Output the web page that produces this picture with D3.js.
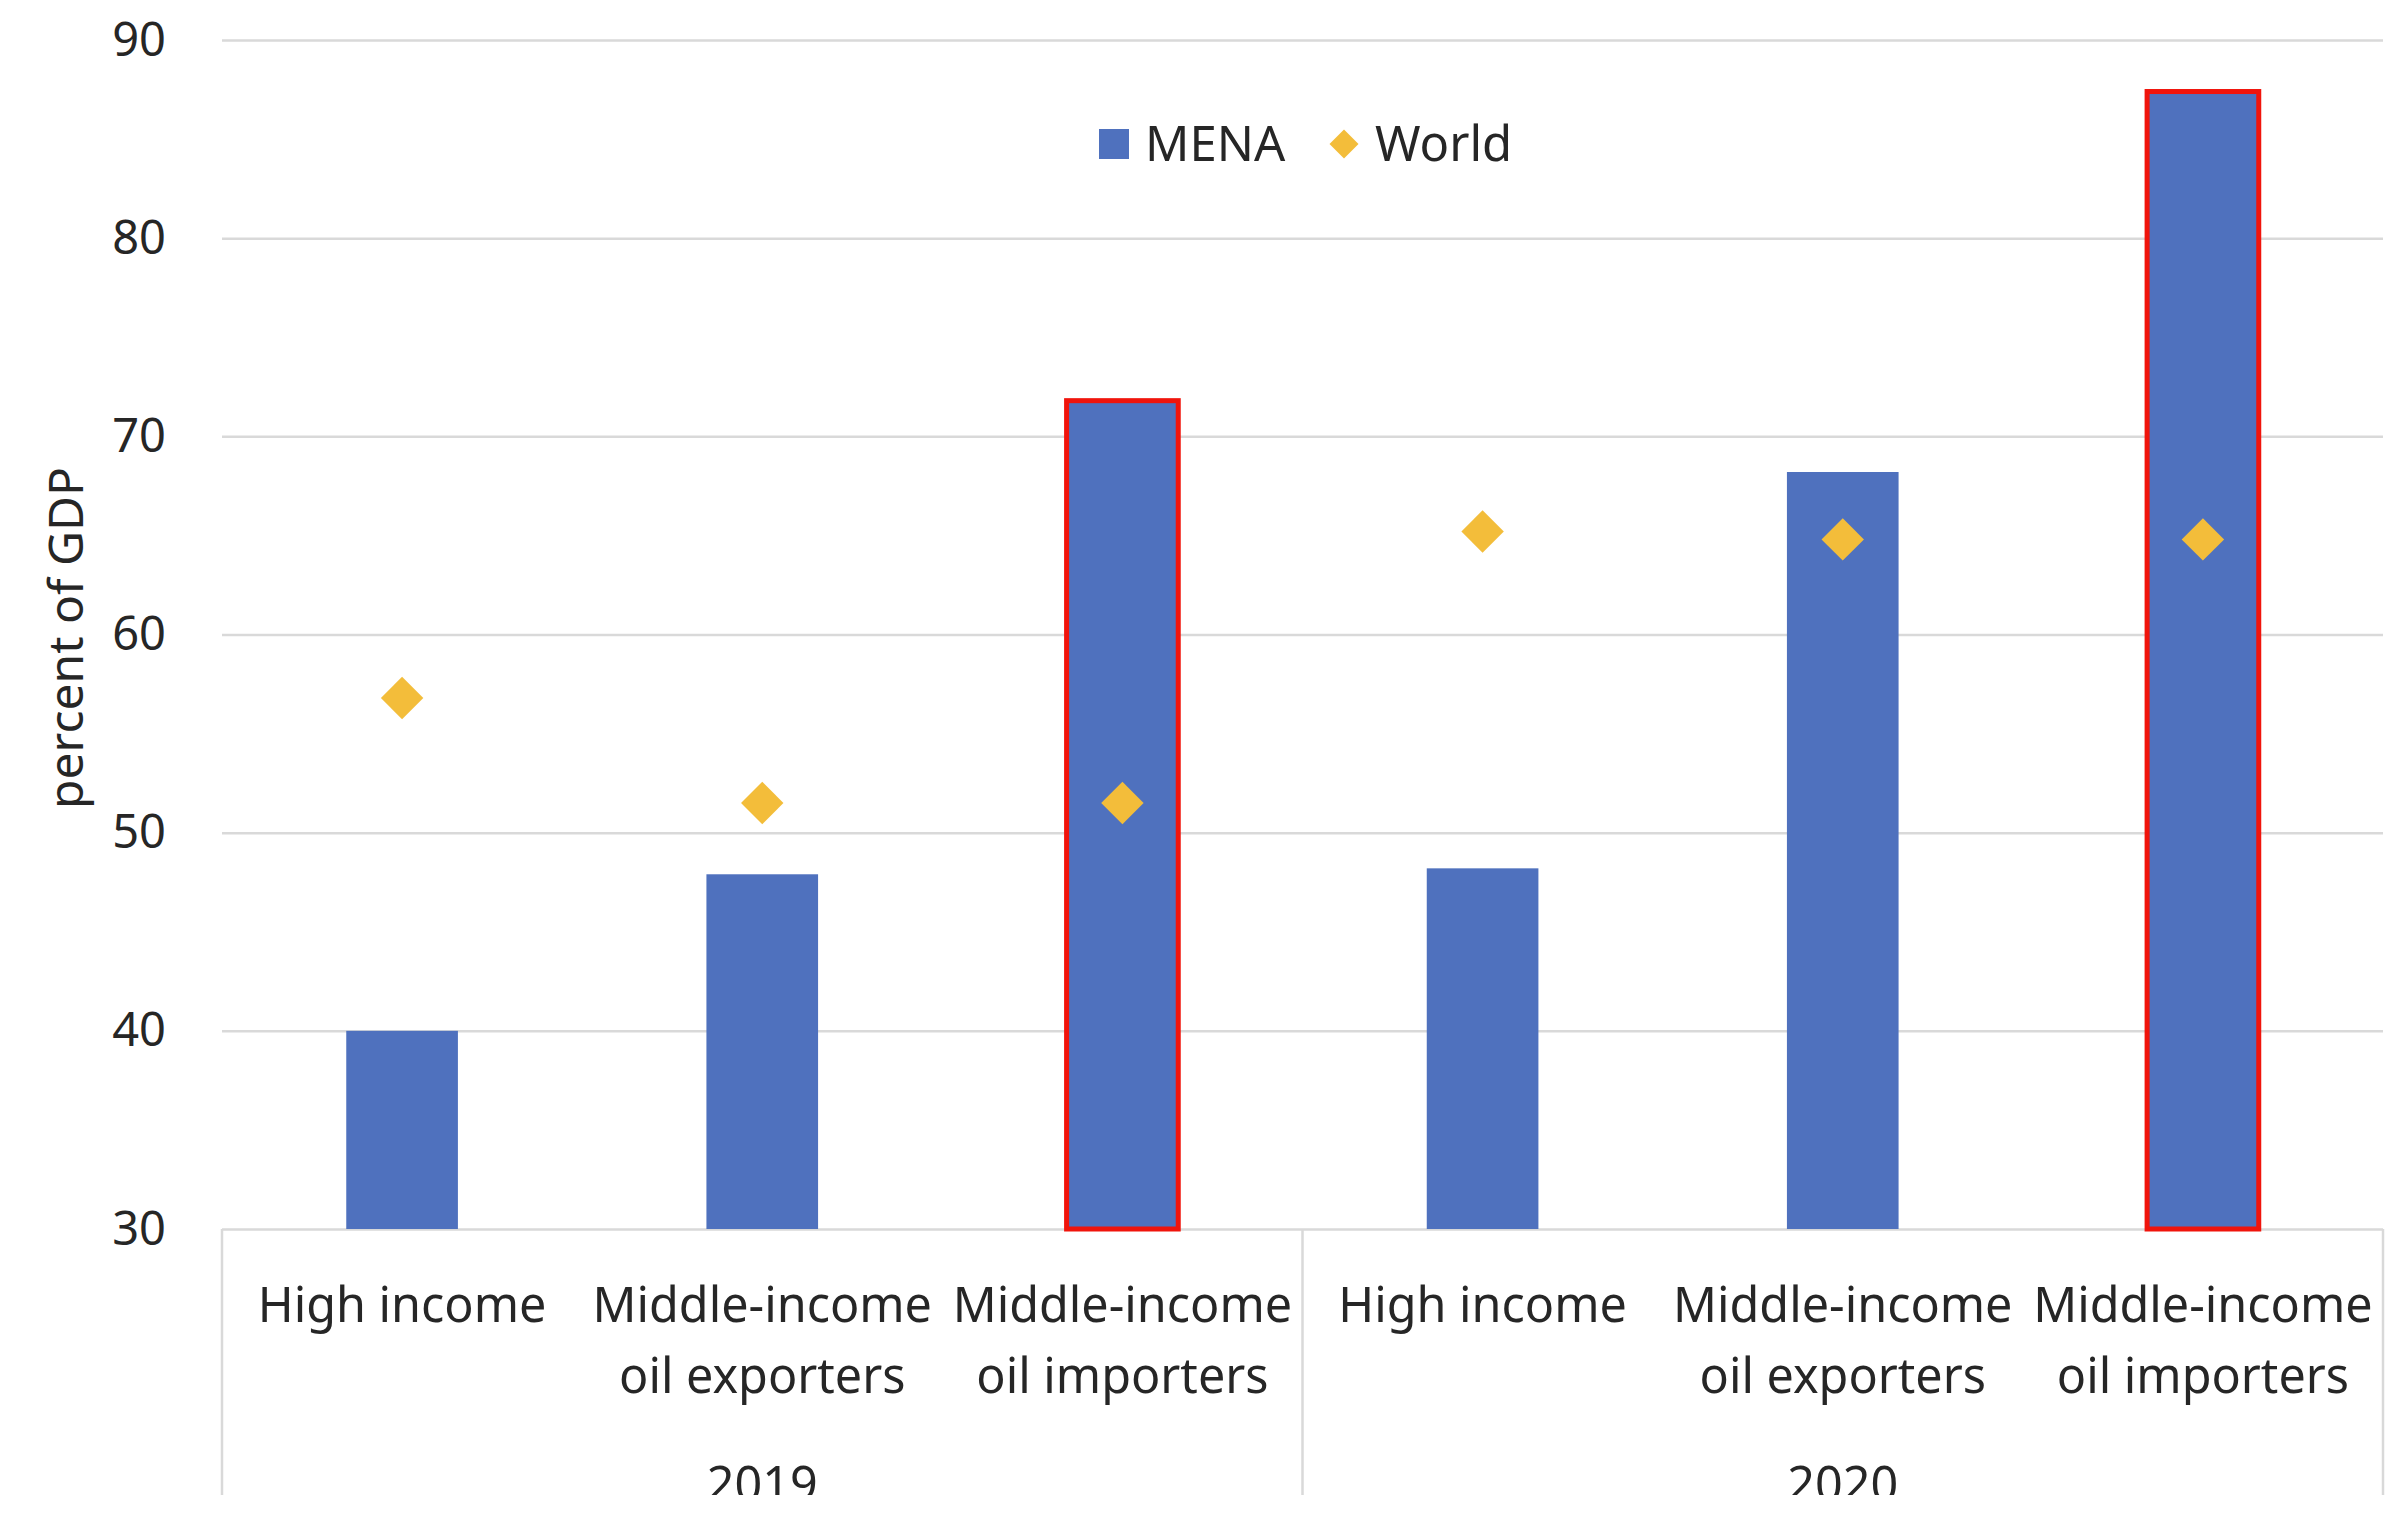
<!DOCTYPE html>
<html>
<head>
<meta charset="utf-8">
<script src="https://cdn.jsdelivr.net/npm/d3@7"></script>
<style>
  html, body { margin: 0; padding: 0; background: #ffffff; }
  svg { display: block; }
  text { font-family: "Noto Sans", "Open Sans", sans-serif; fill: #262626; }
</style>
</head>
<body>
<svg id="chart" width="2408" height="1513"></svg>
<script>
// ---- Data ----
const categories = [
  ["High income"],
  ["Middle-income", "oil exporters"],
  ["Middle-income", "oil importers"],
  ["High income"],
  ["Middle-income", "oil exporters"],
  ["Middle-income", "oil importers"]
];
const years = ["2019", "2020"];
const menaValues  = [40.0, 47.9, 71.8, 48.2, 68.2, 87.4];
const worldValues = [56.8, 51.5, 51.5, 65.2, 64.8, 64.8];
const highlighted = [false, false, true, false, false, true];
const yTicks = [30, 40, 50, 60, 70, 80, 90];
const seriesNames = ["MENA", "World"];
const yTitle = "percent of GDP";

// ---- Layout ----
const W = 2408, H = 1513;
const plotL = 222, plotR = 2383, plotT = 40, plotB = 1229;
const clipBottom = 1495;
const blue = "#4F71BE", gold = "#F3BD3A", red = "#F0140C", grid = "#D9D9D9";

const svg = d3.select("#chart");
svg.append("defs").append("clipPath").attr("id", "clip")
  .append("rect").attr("x", 0).attr("y", 0).attr("width", W).attr("height", clipBottom);

const root = svg.append("g").attr("clip-path", "url(#clip)");

const x = d3.scaleBand().domain(d3.range(categories.length)).range([plotL, plotR]).padding(0);
const y = d3.scaleLinear().domain([30, 90]).range([plotB, plotT]);
const barW = x.bandwidth() * 0.31;

// gridlines + y tick labels
const yAxis = d3.axisLeft(y).tickValues(yTicks).tickSize(-(plotR - plotL)).tickPadding(56).tickFormat(d3.format("d"));
const gy = root.append("g").attr("transform", `translate(${plotL},0)`).call(yAxis);
gy.select(".domain").remove();
gy.selectAll(".tick line").attr("stroke", grid).attr("stroke-width", 2.5);
gy.selectAll(".tick text").attr("font-size", 47).attr("fill", "#262626")
  .style("font-family", "\"Noto Sans\", \"Open Sans\", sans-serif");

// vertical separators of the category axis
const groupSize = categories.length / years.length;
const sepX = d3.range(years.length + 1).map(i => i === years.length ? plotR : x(i * groupSize));
root.append("g").selectAll("line").data(sepX).join("line")
  .attr("x1", d => d).attr("x2", d => d)
  .attr("y1", plotB).attr("y2", H)
  .attr("stroke", grid).attr("stroke-width", 2.5);

// bars
root.append("g").selectAll("rect").data(menaValues).join("rect")
  .attr("x", (d, i) => x(i) + x.bandwidth() / 2 - barW / 2)
  .attr("width", barW)
  .attr("y", d => y(d))
  .attr("height", d => y(30) - y(d))
  .attr("fill", blue)
  .attr("stroke", (d, i) => highlighted[i] ? red : "none")
  .attr("stroke-width", (d, i) => highlighted[i] ? 5 : 0);

// world diamonds
const diamond = d3.symbol().type(d3.symbolSquare).size(900);
root.append("g").selectAll("path").data(worldValues).join("path")
  .attr("d", diamond)
  .attr("transform", (d, i) => `translate(${x(i) + x.bandwidth() / 2},${y(d)}) rotate(45)`)
  .attr("fill", gold);

// category labels
const catG = root.append("g");
categories.forEach((lines, i) => {
  const t = catG.append("text")
    .attr("text-anchor", "middle")
    .attr("font-size", 48.5)
    .attr("x", x(i) + x.bandwidth() / 2)
    .attr("y", 1322);
  lines.forEach((ln, j) => {
    t.append("tspan").attr("x", x(i) + x.bandwidth() / 2).attr("dy", j === 0 ? 0 : 71).text(ln);
  });
});

// year labels
root.append("g").selectAll("text").data(years).join("text")
  .attr("text-anchor", "middle")
  .attr("font-size", 48.5)
  .attr("x", (d, i) => (x(i * groupSize) + (i === years.length - 1 ? plotR : x((i + 1) * groupSize))) / 2)
  .attr("y", 1501)
  .text(d => d);

// y title
svg.append("text")
  .attr("transform", `translate(83,638) rotate(-90)`)
  .attr("text-anchor", "middle")
  .attr("font-size", 48)
  .text(yTitle);

// legend
const lg = svg.append("g");
lg.append("rect").attr("x", 1099).attr("y", 129).attr("width", 30).attr("height", 30).attr("fill", blue);
lg.append("text").attr("x", 1145).attr("y", 161).attr("font-size", 49).text(seriesNames[0]);
lg.append("path").attr("d", d3.symbol().type(d3.symbolSquare).size(420))
  .attr("transform", "translate(1344,144) rotate(45)").attr("fill", gold);
lg.append("text").attr("x", 1375).attr("y", 161).attr("font-size", 49).text(seriesNames[1]);
</script>
</body>
</html>
